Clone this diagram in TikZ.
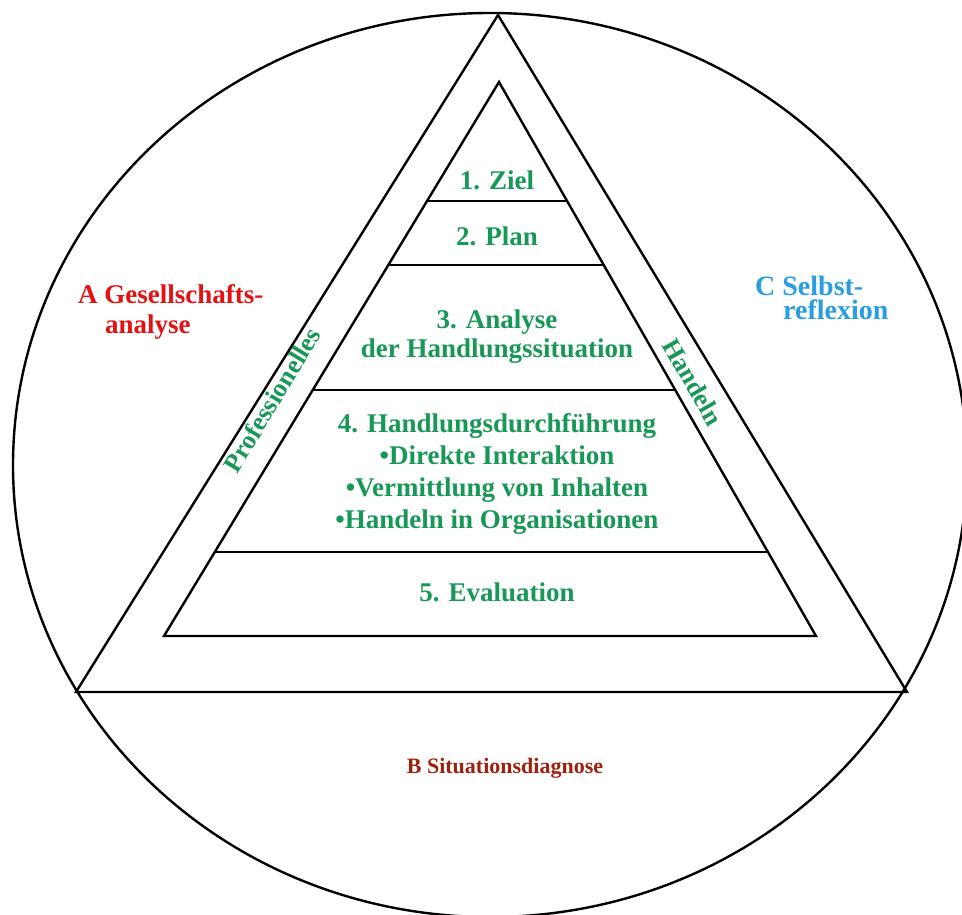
\documentclass[tikz,border=0pt]{standalone}
\usepackage{fontspec}
\setmainfont{Liberation Serif}[BoldFont={Liberation Serif Bold}]
\usetikzlibrary{calc}
\definecolor{stepgreen}{RGB}{24,152,86}
\definecolor{fieldred}{RGB}{226,18,18}
\definecolor{fieldblue}{RGB}{40,158,224}
\definecolor{fielddark}{RGB}{160,32,16}
\tikzset{
  frame/.style={line width=2.4pt, black},
  steptext/.style={font=\bfseries\fontsize{27}{32}\selectfont, text=stepgreen, align=center, inner sep=0pt},
  sidetext/.style={font=\bfseries\fontsize{26}{30}\selectfont, text=stepgreen, inner sep=0pt},
  fieldtext/.style={font=\bfseries\fontsize{27}{30}\selectfont, inner sep=0pt, anchor=base west}
}
\begin{document}
\begin{tikzpicture}[x=1pt,y=-1pt]
  \useasboundingbox (0,0) rectangle (962,915);
  \fill[white] (0,0) rectangle (962,915);
  \begin{scope}
    \clip (0,0) rectangle (962,915);
    % outer circle
    \draw[frame] (490,465) ellipse [x radius=477, y radius=452];
  \end{scope}

  % outer triangle
  \coordinate (OT) at (498,15);
  \coordinate (OL) at (76,692);
  \coordinate (OR) at (907,692);
  \draw[frame, line join=miter] (OT) -- (OL) -- (OR) -- cycle;

  % inner triangle
  \coordinate (IT) at (499,82);
  \coordinate (IL) at (164,636);
  \coordinate (IR) at (816,636);
  \draw[frame, line join=miter] (IT) -- (IL) -- (IR) -- cycle;

  % level separators
  \foreach \lvl/\yy in {l1/201, l2/265, l3/390, l4/552}{
    \pgfmathsetmacro{\lvlpos}{(\yy-82)/554}
    \coordinate (\lvl a) at ($(IT)!\lvlpos!(IL)$);
    \coordinate (\lvl b) at ($(IT)!\lvlpos!(IR)$);
    \draw[frame] (\lvl a) -- (\lvl b);
  }

  % steps
  \node[steptext] (s1) at (497,180) {1. Ziel};
  \node[steptext] (s2) at (497,236) {2. Plan};
  \node[steptext, font=\bfseries\fontsize{27}{29}\selectfont] (s3) at (497,337) {3. Analyse\\der Handlungssituation};
  \node[steptext] (s4) at (497,474) {4. Handlungsdurchführung\\•Direkte Interaktion\\•Vermittlung von Inhalten\\•Handeln in Organisationen};
  \node[steptext] (s5) at (497,592) {5. Evaluation};

  % side labels
  \node[sidetext, rotate=58.8] (pro) at (272,400) {Professionelles};
  \node[sidetext, rotate=-60.2] (han) at (693,382) {Handeln};

  % surrounding fields
  \node[fieldtext, text=fieldred] (fa1) at (78,303) {A Gesellschafts-};
  \node[fieldtext, text=fieldred] (fa2) at (105,333) {analyse};
  \node[fieldtext, text=fieldblue, font=\bfseries\fontsize{28}{30}\selectfont] (fc1) at (755,295) {C Selbst-};
  \node[fieldtext, text=fieldblue, font=\bfseries\fontsize{28}{30}\selectfont] (fc2) at (783,319) {reflexion};
  \node[fieldtext, text=fielddark, font=\bfseries\fontsize{22}{26}\selectfont, anchor=center] (fb) at (505,768) {B Situationsdiagnose};
\end{tikzpicture}
\end{document}
